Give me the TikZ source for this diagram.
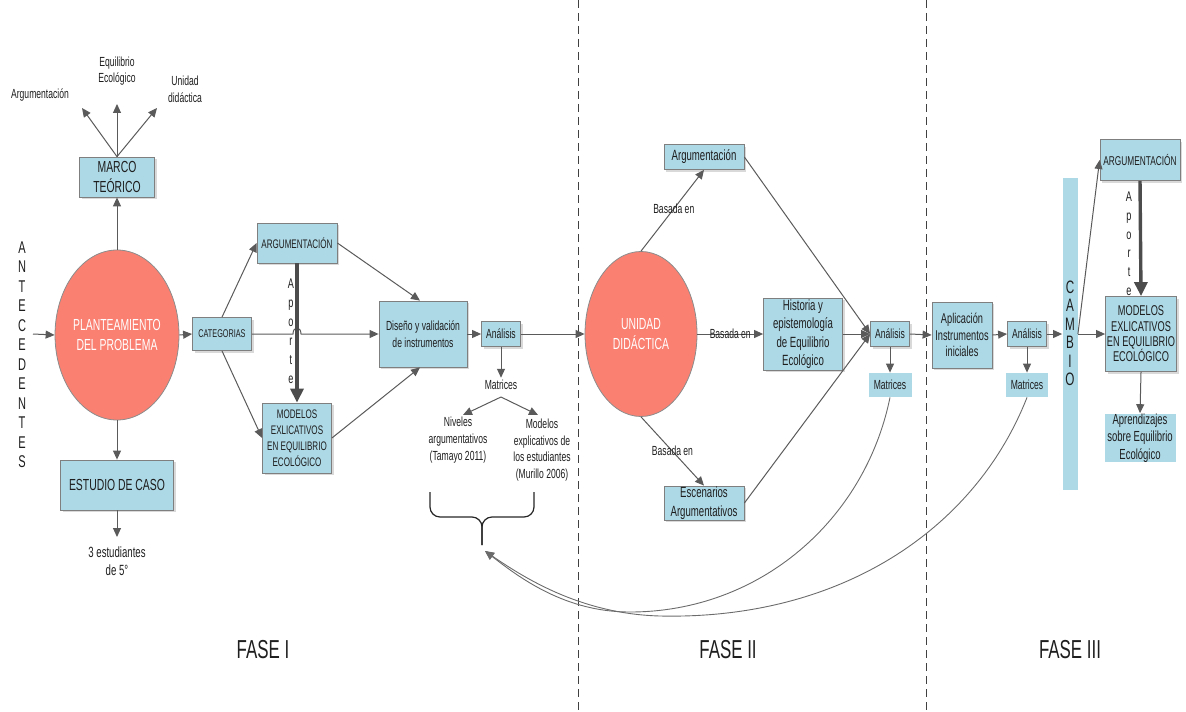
\documentclass[tikz,border=0pt]{standalone}
\usepackage{fontspec}
\setmainfont{Liberation Sans}[FakeStretch=0.65]
\usetikzlibrary{arrows.meta,positioning,shapes.geometric,shadows}
\definecolor{ccaja}{HTML}{ADD8E6}
\definecolor{cborde}{HTML}{7F7F7F}
\definecolor{celipse}{HTML}{FA8072}
\definecolor{cflecha}{HTML}{5A5A5A}
\definecolor{ctexto}{HTML}{1E1E1E}
\tikzset{
  caja/.style={draw=cborde,fill=ccaja,align=center,inner sep=0pt,text=ctexto,
               drop shadow={shadow xshift=1.1pt,shadow yshift=-1.1pt,opacity=0.3}},
  cajasin/.style={fill=ccaja,align=center,inner sep=0pt,text=ctexto},
  elipse/.style={ellipse,draw=cborde!90,fill=celipse,text=white,align=center,inner sep=0pt},
  flecha/.style={-{Triangle[length=4.5pt,width=4pt]},draw=cflecha,line width=0.5pt},
  flechag/.style={-{Triangle[length=7pt,width=6.5pt]},draw=cflecha!85!black,line width=1.7pt},
  curva/.style={flecha,draw=cflecha!90,line width=0.45pt},
  llave/.style={draw=black!85,line width=0.6pt,rounded corners=5pt},
  divisor/.style={draw=black!75,line width=0.4pt,dash pattern=on 4pt off 2.5pt},
  et/.style={align=center,inner sep=1pt,text=ctexto},
  letra/.style={inner sep=0pt,text=ctexto,text height=1.6ex,text depth=0pt},
  fs/.style={font=\fontsize{6.2}{8}\selectfont},
  fa/.style={font=\fontsize{6.6}{8.3}\selectfont},
  fb/.style={font=\fontsize{7.4}{9.2}\selectfont},
  fc/.style={font=\fontsize{8}{10}\selectfont},
  fl/.style={font=\fontsize{8.5}{10}\selectfont},
  ff/.style={font=\fontsize{13}{15}\selectfont},
}
\begin{document}
\begin{tikzpicture}[x=0.5pt,y=-0.5pt]
\useasboundingbox (0,0) rectangle (1186,711);

% divisiones de fase
\draw[divisor] (578,0) -- (578,711);
\draw[divisor] (926,0) -- (926,711);

% ---------------- FASE I ----------------
\foreach \l [count=\i] in {A,N,T,E,C,E,D,E,N,T,E,S}
  \node[letra,fl] at (22,{245+19.5*(\i-1)}) {\l};
\coordinate (ant) at (33,334);

\node[elipse,minimum width=56.5pt,minimum height=85pt,fc] (pp) at (117,335) {PLANTEAMIENTO\\DEL PROBLEMA};
\node[caja,minimum width=37.5pt,minimum height=20pt,fc] (mt) at (117,177) {MARCO\\TEÓRICO};
\node[et,fa] (argm) at (40,95) {Argumentación};
\node[et,fa] (eqe) at (117,71) {Equilibrio\\Ecológico};
\node[et,fa] (unid) at (185,89) {Unidad\\didáctica};
\coordinate (p1) at (82,108);
\coordinate (p2) at (117,104);
\coordinate (p3) at (157,108);
\node[caja,minimum width=56.5pt,minimum height=25pt,fc] (ec) at (117,485) {ESTUDIO DE CASO};
\coordinate (p4) at (117,537);
\node[et,fb] (est) at (117,561) {3 estudiantes\\de 5°};

\node[caja,minimum width=29.5pt,minimum height=16.5pt,font=\fontsize{5.6}{7}\selectfont] (cat) at (222,334) {CATEGORIAS};
\node[caja,minimum width=40pt,minimum height=20pt,fs] (argI) at (297,243) {ARGUMENTACIÓN};
\node[caja,minimum width=34.5pt,minimum height=35pt,fs] (modI) at (297,438) {MODELOS\\EXLICATIVOS\\EN EQUILIBRIO\\ECOLÓGICO};
\node[caja,minimum width=44pt,minimum height=33pt,fa] (dis) at (423,334) {Diseño y validación\\de instrumentos};
\node[caja,minimum width=19.5pt,minimum height=12.5pt,fa] (anI) at (501,334) {Análisis};
\node[et,fa] (matI) at (501,385) {Matrices};
\coordinate (m0) at (501,397);
\coordinate (m1) at (463,415);
\coordinate (m2) at (538,415);
\node[et,fa] (niv) at (458,440) {Niveles\\argumentativos\\(Tamayo 2011)};
\node[et,fa] (mexp) at (542,450) {Modelos\\explicativos de\\los estudiantes\\(Murillo 2006)};
\coordinate (punta) at (485,551);

\draw[flecha] (ant) -- (pp.west);
\draw[flecha] (pp.north) -- (mt.south);
\draw[flecha] (mt.north) -- (p1);
\draw[flecha] (mt.north) -- (p2);
\draw[flecha] (mt.north) -- (p3);
\draw[flecha] (pp.south) -- (ec.north);
\draw[flecha] (ec.south) -- (p4);
\draw[flecha] (pp.east) -- (cat.west);
\draw[flecha] (cat.north) -- (argI.west);
\draw[flecha] (cat.south) -- (modI.west);
\draw[flecha] (cat.east) -- (293,334) .. controls (293,326) and (301,326) .. (301,334) -- (dis.west);
\draw[flecha] (argI.east) -- ([xshift=-1.5pt]dis.north);
\draw[flecha] (modI.east) -- ([xshift=-1.5pt]dis.south);
\draw[flechag] (argI.south) -- (modI.north);
\foreach \l [count=\i] in {A,p,o,r,t,e}
  \node[letra,font=\fontsize{7}{8}\selectfont] at (291,{280+19*(\i-1)}) {\l};
\draw[flecha] (dis.east) -- (anI.west);
\draw[flecha] (anI.south) -- (matI.north);
\draw[flecha] (m0) -- (m1);
\draw[flecha] (m0) -- (m2);
\draw[llave] (430,492) -- (430,517) -- (482,517) -- (482,545);
\draw[llave] (534,492) -- (534,517) -- (482,517) -- (482,545);

% ---------------- FASE II ----------------
\node[elipse,minimum width=56pt,minimum height=82.5pt,fc] (ud) at (641,334) {UNIDAD\\DIDÁCTICA};
\node[caja,minimum width=40pt,minimum height=12.5pt,fb] (argII) at (704,157) {Argumentación};
\node[caja,minimum width=39.5pt,minimum height=36pt,fb] (his) at (803,334) {Historia y\\epistemología\\de Equilibrio\\Ecológico};
\node[caja,minimum width=40pt,minimum height=17pt,fb] (esc) at (704,503) {Escenarios\\Argumentativos};
\node[caja,minimum width=19.5pt,minimum height=12.5pt,fa] (anII) at (890,334) {Análisis};
\node[cajasin,minimum width=21.5pt,minimum height=12pt,fa] (matII) at (890,385) {Matrices};

\draw[flecha] (anI.east) -- (ud.west);
\draw[flecha] (ud.north) -- node[et,fa,pos=0.52] {Basada en} (argII.south);
\draw[flecha] (ud.south) -- node[et,fa] {Basada en} (esc.north);
\draw[flecha] (ud.east) -- node[et,fa] {Basada en} (his.west);
\draw[flecha] (argII.east) -- (anII.west);
\draw[flecha] (his.east) -- (anII.west);
\draw[flecha] (esc.east) -- (anII.west);
\draw[flecha] (anII.south) -- (matII.north);

% ---------------- FASE III ----------------
\node[caja,minimum width=30pt,minimum height=33pt,font=\fontsize{7.1}{8.3}\selectfont] (apl) at (962,335) {Aplicación\\Instrumentos\\iniciales};
\node[caja,minimum width=19.5pt,minimum height=12.5pt,fa] (anIII) at (1027,334) {Análisis};
\node[cajasin,minimum width=21pt,minimum height=12pt,fa] (matIII) at (1027,385) {Matrices};
\node[cajasin,minimum width=7.5pt,minimum height=156pt] (cambio) at (1070,334) {};
\foreach \l [count=\i] in {C,A,M,B,I,O}
  \node[letra,font=\fontsize{9}{10}\selectfont] at (1070,{285+18.4*(\i-1)}) {\l};
\node[caja,minimum width=40pt,minimum height=20.5pt,font=\fontsize{6.4}{8}\selectfont] (argIII) at (1140,160) {ARGUMENTACIÓN};
\node[caja,minimum width=35.5pt,minimum height=37.5pt,font=\fontsize{7.1}{7.7}\selectfont] (modIII) at (1141,334) {MODELOS\\EXLICATIVOS\\EN EQUILIBRIO\\ECOLÓGICO};
\node[cajasin,minimum width=35.5pt,minimum height=23.5pt,font=\fontsize{7.3}{8.8}\selectfont] (apr) at (1140,438) {Aprendizajes\\sobre Equilibrio\\Ecológico};

\draw[flecha] (anII.east) -- (apl.west);
\draw[flecha] (apl.east) -- (anIII.west);
\draw[flecha] (anIII.east) -- (cambio.west);
\draw[flecha] (anIII.south) -- (matIII.north);
\draw[flecha] (cambio.east) -- (argIII.west);
\draw[flecha] (cambio.east) -- (modIII.west);
\draw[flechag] (argIII.south) -- (modIII.north);
\foreach \l [count=\i] in {A,p,o,r,t,e}
  \node[letra,font=\fontsize{7}{8}\selectfont] at (1129,{193+18.8*(\i-1)}) {\l};
\draw[flecha] (modIII.south) -- (apr.north);

% retorno de matrices
\draw[curva] (matII.south) .. controls (865,520) and (760,612) .. (630,612)
  .. controls (565,612) and (520,578) .. (punta);
\draw[curva] (matIII.south) .. controls (975,530) and (840,620) .. (660,616)
  .. controls (585,614) and (530,582) .. (punta);

% fases
\node[et,ff] (fase1) at (263,650) {FASE I};
\node[et,ff] (fase2) at (728,650) {FASE II};
\node[et,ff] (fase3) at (1070,650) {FASE III};

\end{tikzpicture}
\end{document}
